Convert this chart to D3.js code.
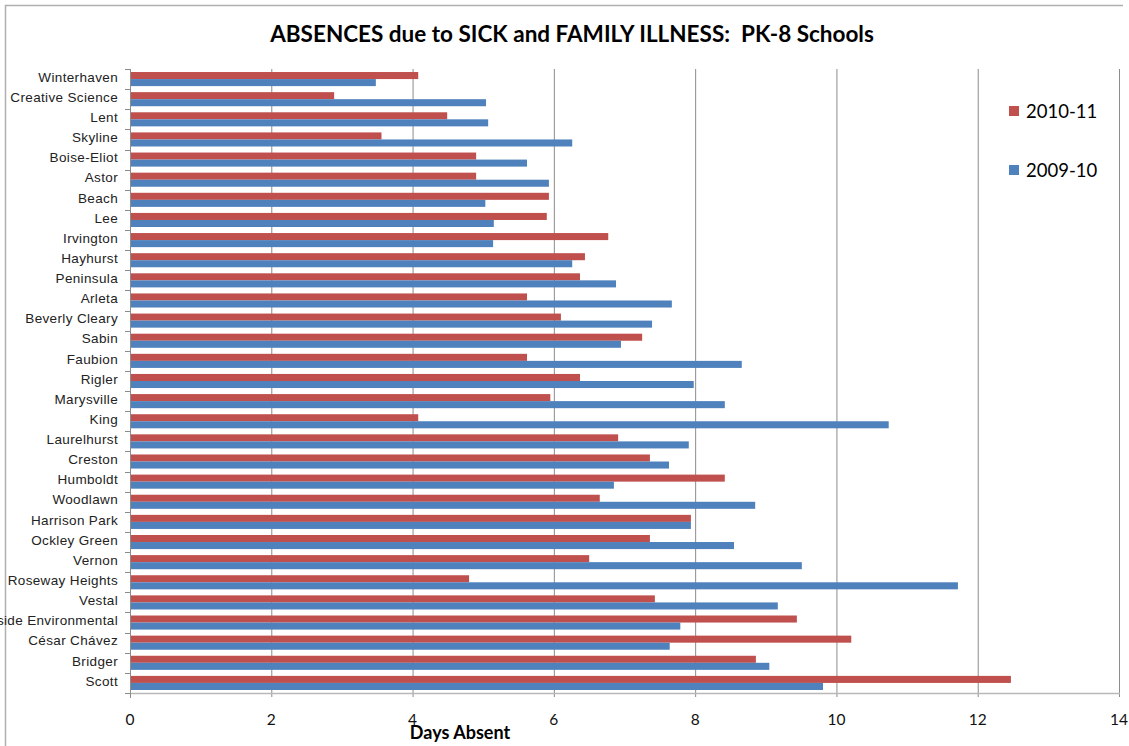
<!DOCTYPE html>
<html>
<head>
<meta charset="utf-8">
<script src="https://cdn.jsdelivr.net/npm/d3@7"></script>
<style>
  html, body { margin: 0; padding: 0; background: #fff; }
  svg { display: block; }
</style>
</head>
<body>
<svg id="chart" width="1129" height="746"></svg>
<script>
const schools = ["Winterhaven","Creative Science","Lent","Skyline","Boise-Eliot","Astor","Beach","Lee","Irvington","Hayhurst","Peninsula","Arleta","Beverly Cleary","Sabin","Faubion","Rigler","Marysville","King","Laurelhurst","Creston","Humboldt","Woodlawn","Harrison Park","Ockley Green","Vernon","Roseway Heights","Vestal","Riverside Environmental","César Chávez","Bridger","Scott"];
const values2010_11 = [4.08,2.89,4.49,3.56,4.90,4.90,5.93,5.90,6.77,6.44,6.37,5.62,6.10,7.25,5.62,6.37,5.95,4.08,6.91,7.36,8.42,6.65,7.94,7.36,6.50,4.80,7.43,9.44,10.21,8.86,12.47];
const values2009_10 = [3.48,5.04,5.07,6.26,5.62,5.93,5.03,5.15,5.14,6.26,6.88,7.67,7.39,6.95,8.66,7.98,8.42,10.74,7.91,7.63,6.85,8.85,7.94,8.55,9.51,11.72,9.17,7.79,7.64,9.05,9.81];
const seriesNames = ["2010-11","2009-10"];
const seriesColors = ["#C0504D","#4F81BD"];
const xTicks = [0,2,4,6,8,10,12,14];
const title = "ABSENCES due to SICK and FAMILY ILLNESS:  PK-8 Schools";
const xTitle = "Days Absent";

(function(){
const svg = d3.select("#chart");
const pLeft = 130, pRight = 1119, pTop = 69, pBottom = 693;

// chart frame
svg.append("path").attr("d", "M5.5,746V5.5H1123").attr("fill","none").attr("stroke","#b0b0b0").attr("stroke-width",1.5);

const x = d3.scaleLinear().domain([0,14]).range([pLeft,pRight]);
const y = d3.scaleBand().domain(schools).range([pTop,pBottom]).paddingInner(0.3).paddingOuter(0.15);
const yb = d3.scaleLinear().domain([0, schools.length]).range([pTop,pBottom]);
const inner = d3.scaleBand().domain(seriesNames).range([0,y.bandwidth()]);

// gridlines
svg.append("g").selectAll("line").data(xTicks.slice(1)).join("line")
  .attr("x1", d=>x(d)+0.5).attr("x2", d=>x(d)+0.5)
  .attr("y1", pTop).attr("y2", pBottom+4)
  .attr("stroke","#8c8c8c").attr("stroke-width",1);

// bars
const data = [values2010_11, values2009_10];
data.forEach((vals, si) => {
  svg.append("g").selectAll("rect").data(vals).join("rect")
    .attr("x", x(0))
    .attr("y", (d,i)=> y(schools[i]) + inner(seriesNames[si]))
    .attr("width", d=> x(d)-x(0))
    .attr("height", inner.bandwidth())
    .attr("fill", seriesColors[si]);
});

// y axis line & ticks
svg.append("line").attr("x1",pLeft+0.5).attr("x2",pLeft+0.5).attr("y1",pTop).attr("y2",pBottom)
  .attr("stroke","#8c8c8c");
svg.append("g").selectAll("line").data(d3.range(schools.length+1)).join("line")
  .attr("x1", pLeft-5).attr("x2", pLeft)
  .attr("y1", d=>Math.round(yb(d))+0.5).attr("y2", d=>Math.round(yb(d))+0.5)
  .attr("stroke","#8c8c8c");
// x axis line & ticks
svg.append("line").attr("x1",pLeft).attr("x2",pRight+1).attr("y1",pBottom+0.5).attr("y2",pBottom+0.5)
  .attr("stroke","#b8b8b8").attr("stroke-width",1.5);
svg.append("line").attr("x1",pLeft+0.5).attr("x2",pLeft+0.5).attr("y1",pBottom).attr("y2",pBottom+5).attr("stroke","#8c8c8c");

// category labels
svg.append("g").selectAll("text").data(schools).join("text")
  .attr("x", 118)
  .attr("y", d=> yb(schools.indexOf(d)+0.5) - 2)
  .attr("dy","0.35em")
  .attr("text-anchor","end")
  .attr("font-family","'Liberation Sans', Arial, sans-serif")
  .attr("font-size",13.5)
  .attr("letter-spacing",0.35)
  .attr("fill","#222")
  .text(d=>d);

// x tick labels
svg.append("g").selectAll("text").data(xTicks).join("text")
  .attr("x", d=>x(d))
  .attr("y", 725)
  .attr("text-anchor","middle")
  .attr("font-family","Lato, 'Open Sans', sans-serif")
  .attr("font-size",15.5)
  .attr("fill","#111")
  .text(d=>d);

// x title
svg.append("text").attr("x",460).attr("y",739).attr("text-anchor","middle")
  .attr("font-family","Lato, 'Open Sans', sans-serif").attr("font-weight","bold")
  .attr("font-size",18).attr("fill","#000").text(xTitle);

// title
svg.append("text").attr("x",572).attr("y",42).attr("text-anchor","middle")
  .attr("font-family","Lato, 'Open Sans', sans-serif").attr("font-weight","bold")
  .attr("font-size",22.5).attr("fill","#000")
  .style("white-space","pre").attr("xml:space","preserve")
  .text(title);

// legend
const lg = svg.append("g");
seriesNames.forEach((s,i)=>{
  const cy = 111 + i*59;
  lg.append("rect").attr("x",1009).attr("y",cy-5).attr("width",10).attr("height",10).attr("fill",seriesColors[i]);
  lg.append("text").attr("x",1026).attr("y",cy).attr("dy","0.36em")
    .attr("font-family","Lato, 'Open Sans', sans-serif").attr("font-size",18.5).attr("fill","#000").text(s);
});
})();
</script>
</body>
</html>
